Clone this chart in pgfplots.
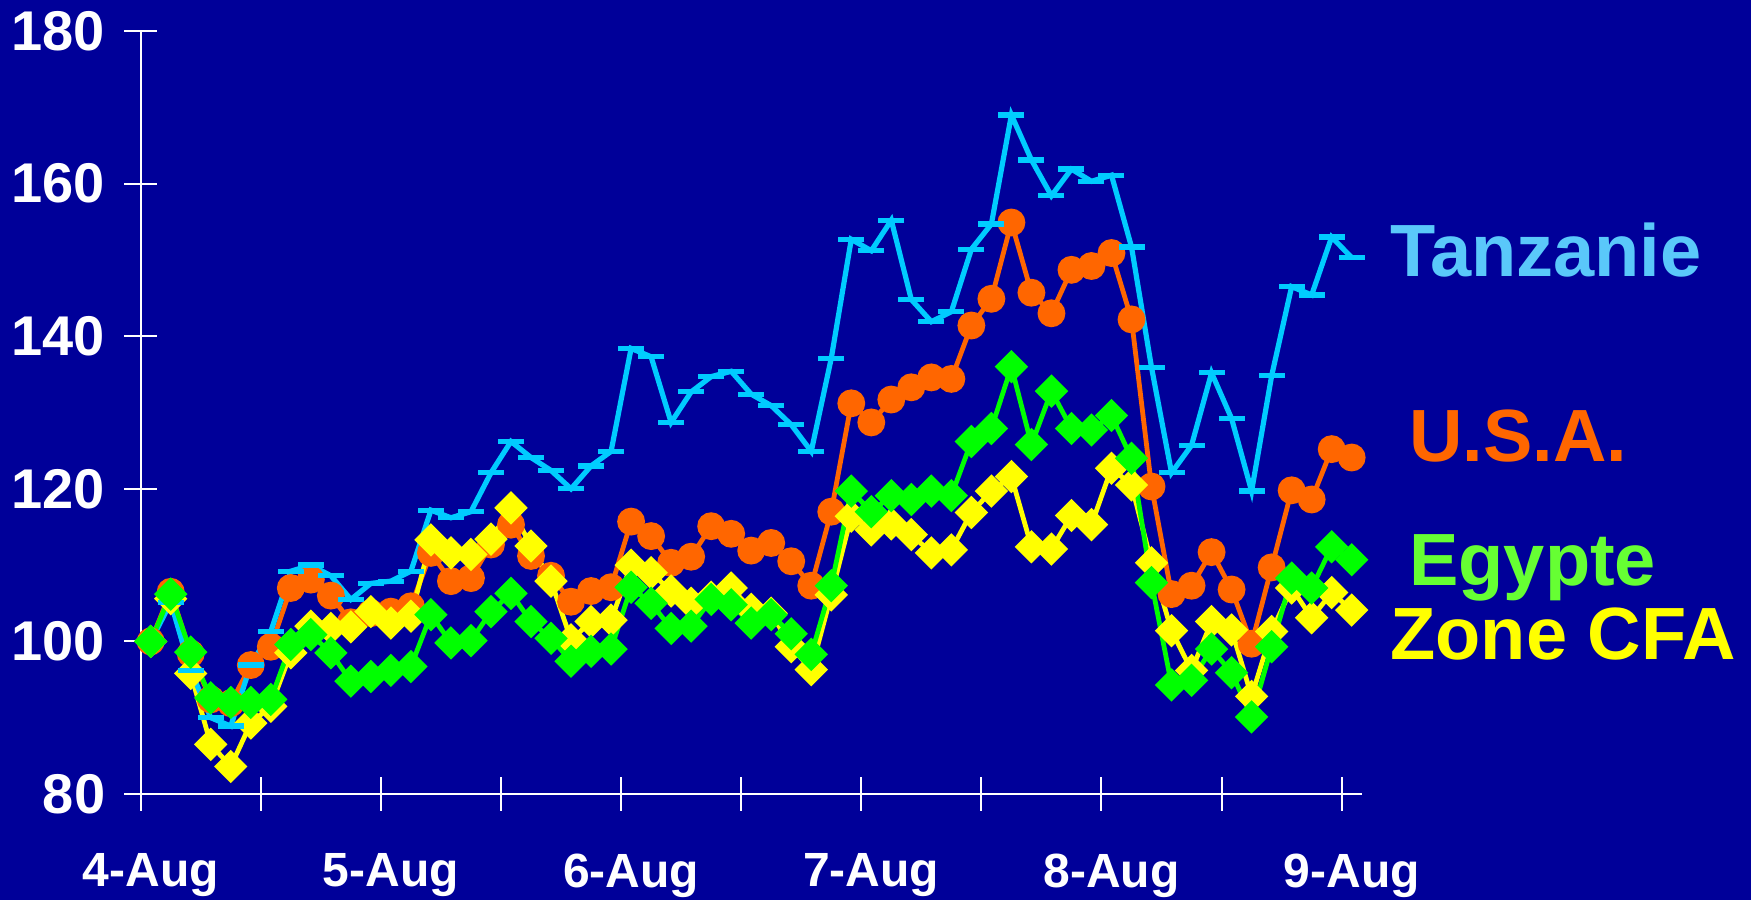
\documentclass[border=0pt]{standalone}
\usepackage{pgfplots}
\pgfplotsset{compat=1.18}
\usepackage{pgfplotstable}
\usepackage{fontspec}
\setmainfont{Liberation Sans}
\definecolor{bg}{RGB}{0,0,153}
\definecolor{tzc}{RGB}{0,204,255}
\definecolor{usac}{RGB}{255,102,0}
\definecolor{egc}{RGB}{0,255,0}
\definecolor{cfac}{RGB}{255,255,0}
\definecolor{tzl}{RGB}{90,200,250}
\definecolor{egl}{RGB}{102,255,51}
\pgfplotstableread{
x tz usa eg cfa
0.5 100 100 100 100
1.5 105.1 106.5 106.2 105.6
2.5 96.2 98.4 98.6 95.8
3.5 90.0 92.4 92.6 86.5
4.5 88.9 91.9 92.0 83.6
5.5 96.9 96.9 92.0 89.3
6.5 101.3 99.3 92.4 91.5
7.5 109.2 107.0 99.6 98.5
8.5 110.0 108.1 100.9 102.0
9.5 108.6 106.0 98.5 101.7
10.5 105.5 102.5 94.8 101.9
11.5 107.6 103.7 95.4 103.9
12.5 107.9 103.9 96.2 102.4
13.5 109.2 104.6 96.7 103.3
14.5 117.2 111.6 103.5 113.3
15.5 116.2 107.9 99.8 111.6
16.5 117.0 108.3 100.1 111.4
17.5 122.1 112.7 103.9 113.4
18.5 126.2 115.3 106.3 117.5
19.5 124.1 111.2 102.6 112.5
20.5 122.4 108.6 100.4 107.9
21.5 120.0 105.2 97.4 100.2
22.5 123.0 106.6 98.7 102.6
23.5 124.9 107.1 99.0 102.8
24.5 138.4 115.7 107.1 110.0
25.5 137.3 113.8 105.0 109.0
26.5 128.7 110.3 101.7 106.6
27.5 132.7 111.1 102.0 105.0
28.5 134.7 115.1 105.5 105.8
29.5 135.4 114.1 104.8 107.0
30.5 132.4 111.9 102.4 104.2
31.5 130.9 112.9 103.5 103.7
32.5 128.4 110.5 101.0 99.3
33.5 124.9 107.3 98.3 96.3
34.5 137.1 117.0 107.3 106.1
35.5 152.7 131.2 119.7 116.4
36.5 151.2 128.7 117.0 114.6
37.5 155.2 131.7 119.1 115.4
38.5 144.8 133.3 118.6 114.0
39.5 141.9 134.6 119.7 111.6
40.5 143.2 134.4 119.1 112.0
41.5 151.4 141.4 126.2 116.9
42.5 154.7 144.9 127.9 119.7
43.5 169.0 154.9 136.0 121.6
44.5 163.1 145.7 125.8 112.4
45.5 158.4 143.0 132.8 112.1
46.5 161.9 148.7 127.9 116.5
47.5 160.3 149.2 127.7 115.3
48.5 161.1 150.9 129.6 122.7
49.5 151.7 142.2 124.0 120.5
50.5 135.9 120.3 107.7 110.3
51.5 122.1 106.2 94.3 101.4
52.5 125.7 107.3 94.9 96.2
53.5 135.2 111.7 99.0 102.6
54.5 129.2 106.8 95.9 101.5
55.5 119.7 99.7 90.1 92.8
56.5 134.8 109.7 99.3 101.3
57.5 146.5 119.8 108.3 107.0
58.5 145.4 118.6 107.0 103.1
59.5 153.0 125.2 112.4 106.4
60.5 150.3 124.1 110.7 104.1
}\data
\begin{document}
\begin{tikzpicture}
\useasboundingbox (0,0) rectangle (875.5bp,450bp);
\fill[bg] (0,0) rectangle (875.5bp,450bp);
\begin{axis}[
  at={(70.35bp,53bp)}, anchor=south west,
  scale only axis, width=610.5bp, height=381.5bp,
  xmin=0, xmax=61, ymin=80, ymax=180,
  clip=false,
  axis x line*=bottom, axis y line*=left,
  axis line style={white, line width=1bp, -},
  tick style={white, line width=1bp},
  tick align=center, major tick length=16.5bp,
  xtick={0,6,...,60},
  xticklabels={4-Aug,,5-Aug,,6-Aug,,7-Aug,,8-Aug,,9-Aug},
  ytick={80,100,...,180},
  /pgf/number format/assume math mode=true,
  xticklabel style={font=\fontsize{24bp}{26bp}\selectfont\bfseries, text=white, xshift=5bp, yshift=-18bp},
  yticklabel style={font=\fontsize{28bp}{30bp}\selectfont\bfseries, text=white, xshift=-6bp},
]
\addplot[color=usac, line width=2.4bp, mark=*, mark size=5.75bp, mark options={fill=usac, draw=none}] table[x=x,y=usa]{\data};
\addplot[color=cfac, line width=2.4bp, mark=square*, mark size=4.7bp, mark options={fill=cfac, draw=none, rotate=45}] table[x=x,y=cfa]{\data};
\addplot[color=tzc, line width=2.6bp, mark=-, mark size=6.5bp, mark options={line width=2.6bp}] table[x=x,y=tz]{\data};
\addplot[color=egc, line width=2.4bp, mark=square*, mark size=4.7bp, mark options={fill=egc, draw=none, rotate=45}] table[x=x,y=eg]{\data};
\end{axis}
\begin{scope}[every node/.style={inner sep=0pt, anchor=base west, font=\fontsize{37bp}{40bp}\selectfont\bfseries}]
\node[text=tzl] at (695bp,311.5bp) {Tanzanie};
\node[text=usac] at (704.5bp,219bp) {U.S.A.};
\node[text=egl] at (704.5bp,157bp) {Egypte};
\node[text=cfac] at (695bp,120.25bp) {Zone CFA};
\end{scope}
\end{tikzpicture}
\end{document}
